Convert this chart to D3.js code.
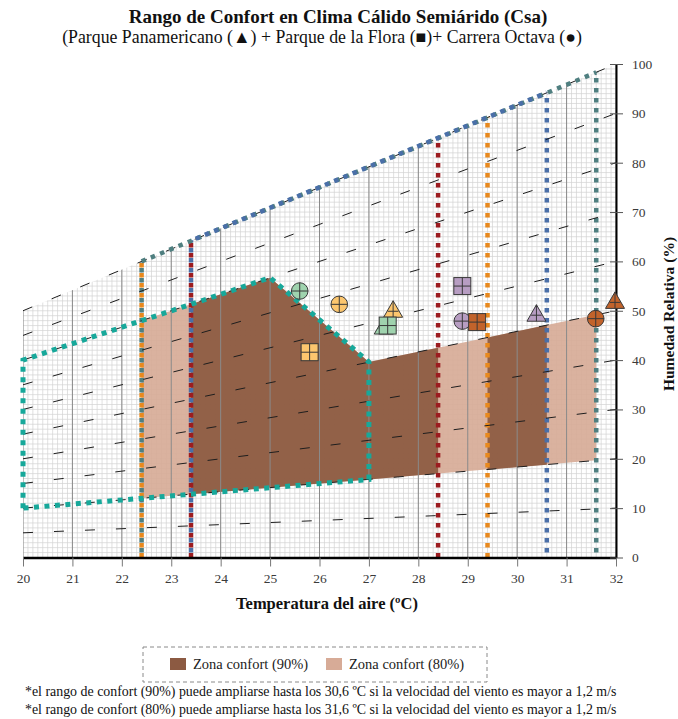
<!DOCTYPE html>
<html>
<head>
<meta charset="utf-8">
<script src="https://cdn.jsdelivr.net/npm/d3@7"></script>
<style>
  body { margin: 0; background: #fff; }
  svg { display: block; font-family: "Liberation Serif", "DejaVu Serif", serif; }
</style>
</head>
<body>
<svg id="chart" width="678" height="719"></svg>
<script>
// axis ticks
var tempTicks = [20, 21, 22, 23, 24, 25, 26, 27, 28, 29, 30, 31, 32];
var rhTicks = [0, 10, 20, 30, 40, 50, 60, 70, 80, 90, 100];

// saturation line (top of the chart), value at 20 and 32 C
var satTemp = [20, 32];
var satValue = [50, 100];

// dashed humidity curves, value where each one meets 20 C and 32 C
var curveAt20 = [5, 10, 15, 20, 25, 30, 35, 40, 45, 50];
var curveAt32 = [10, 20, 30, 40, 50, 60, 70, 80, 90, 100];

// comfort zone 80% (light)
var zone80Temp = [22.4, 22.4, 23.4, 25.0, 27.0, 28.4, 29.4, 30.6, 31.6, 31.6, 22.4];
var zone80Value = [12.0, 48.0, 51.3, 56.7, 39.6, 42.5, 44.6, 47.1, 49.2, 19.7, 12.0];

// comfort zone 90% (dark), two pieces
var zone90aTemp = [23.4, 23.4, 25.0, 27.0, 28.4, 28.4, 27.0, 23.4];
var zone90aValue = [12.8, 51.3, 56.7, 39.6, 42.5, 17.0, 15.8, 12.8];
var zone90bTemp = [29.4, 29.4, 30.6, 30.6];
var zone90bValue = [17.8, 44.6, 47.1, 18.8];

// dotted envelope (teal)
var envTemp = [20, 20, 22.4, 23.4, 25.0, 27.0, 27.0, 20];
var envValue = [10, 40, 48.0, 51.3, 56.7, 39.6, 15.8, 10];

// limit temperatures
var lim80 = [22.4, 29.4];
var lim90 = [23.4, 28.4];
var lim90wind = [23.4, 30.6];
var lim80wind = [22.4, 31.6];
// top of the wind envelopes along the saturation line
var top90windValue = [64.2, 94.2];
var top80windValue = [60.0, 98.3];

// measured points, one per colour group (green, yellow, purple, brown)
var triTemp = [27.30, 27.49, 30.39, 31.98];
var triValue = [46.8, 50.2, 49.4, 52.0];
var sqTemp = [27.38, 25.80, 28.89, 29.19];
var sqValue = [47.0, 41.6, 55.0, 47.7];
var circTemp = [25.60, 26.40, 28.89, 31.59];
var circValue = [54.0, 51.3, 47.9, 48.4];

var groupColor = ["#9fd3ae", "#fcc66e", "#b79dc2", "#c2632b"];
var lineColor = { l80: "#e8891e", l90: "#9c1c20", l90w: "#4a6fa8", l80w: "#4f7f80", env: "#17a89a" };

var svg = d3.select("#chart");
var x = d3.scaleLinear().domain([20, 32]).range([23, 616]);
var y = d3.scaleLinear().domain([0, 100]).range([557.5, 64]);
var line = d3.line();
function pt(t, v) { return [x(t), y(v)]; }
function polyPath(ts, vs) {
    return line(ts.map(function(t, i) { return pt(t, vs[i]); })) + "Z";
}

// clip everything under the saturation line
svg.append("clipPath").attr("id", "satClip")
  .append("path")
    .attr("d", polyPath([satTemp[0], satTemp[0], satTemp[1], satTemp[1]],
                        [0, satValue[0], satValue[1], 0]));

var grid = svg.append("g").attr("clip-path", "url(#satClip)");

// fine grid
grid.selectAll(".vminor")
    .data(d3.range(200, 321).map(function(d) { return d / 10; }))
  .enter().append("line")
    .attr("x1", function(d) { return x(d); })
    .attr("x2", function(d) { return x(d); })
    .attr("y1", y(0)).attr("y2", y(100))
    .attr("stroke", "#d2d2d2").attr("stroke-width", 0.7);

grid.selectAll(".hminor")
    .data(d3.range(0, 101))
  .enter().append("line")
    .attr("x1", x(20)).attr("x2", x(32))
    .attr("y1", function(d) { return y(d); })
    .attr("y2", function(d) { return y(d); })
    .attr("stroke", "#d2d2d2").attr("stroke-width", 0.7);

// comfort zones
svg.append("path").attr("d", polyPath(zone80Temp, zone80Value))
    .attr("fill", "#d7ab97").attr("opacity", 0.92);
svg.append("path").attr("d", polyPath(zone90aTemp, zone90aValue))
    .attr("fill", "#8c5a42").attr("opacity", 0.93);
svg.append("path").attr("d", polyPath(zone90bTemp, zone90bValue))
    .attr("fill", "#8c5a42").attr("opacity", 0.93);

var grid2 = svg.append("g").attr("clip-path", "url(#satClip)");

// degree lines
grid2.selectAll(".vmajor")
    .data(tempTicks)
  .enter().append("line")
    .attr("x1", function(d) { return x(d); })
    .attr("x2", function(d) { return x(d); })
    .attr("y1", y(0)).attr("y2", y(100))
    .attr("stroke", "#8a8a8a").attr("stroke-width", 1);

// humidity curves
svg.selectAll(".curve")
    .data(curveAt32)
  .enter().append("path")
    .attr("d", function(d, i) { return line([pt(20, curveAt20[i]), pt(32, d)]); })
    .attr("fill", "none")
    .attr("stroke", "#1e1e1e").attr("stroke-width", 1)
    .attr("stroke-dasharray", "10,21");

// vertical limit lines (dotted)
function vLines(temps, color, offset) {
    grid2.selectAll(null)
        .data(temps)
      .enter().append("line")
        .attr("x1", function(d) { return x(d); })
        .attr("x2", function(d) { return x(d); })
        .attr("y1", y(0)).attr("y2", y(100))
        .attr("stroke", color).attr("stroke-width", 4.5)
        .attr("stroke-dasharray", "4.5,5.5")
        .attr("stroke-dashoffset", offset);
}
vLines(lim80wind, lineColor.l80w, 5);
vLines(lim80, lineColor.l80, 0);
vLines(lim90wind, lineColor.l90w, 5);
vLines(lim90, lineColor.l90, 0);

// top of wind envelopes
svg.append("path")
    .attr("d", line([pt(lim80wind[0], top80windValue[0]), pt(lim80wind[1], top80windValue[1])]))
    .attr("stroke", lineColor.l80w).attr("stroke-width", 4.5)
    .attr("stroke-dasharray", "4.5,5.5").attr("fill", "none");
svg.append("path")
    .attr("d", line([pt(lim90wind[0], top90windValue[0]), pt(lim90wind[1], top90windValue[1])]))
    .attr("stroke", lineColor.l90w).attr("stroke-width", 4.5)
    .attr("stroke-dasharray", "4.5,5.5").attr("stroke-dashoffset", 5).attr("fill", "none");

// teal envelope
svg.append("path")
    .attr("d", polyPath(envTemp, envValue))
    .attr("fill", "none")
    .attr("stroke", lineColor.env).attr("stroke-width", 5)
    .attr("stroke-dasharray", "5,5.5");

// axes
var xAxis = svg.append("g")
    .attr("transform", "translate(0," + y(0) + ")")
    .call(d3.axisBottom(x).tickValues(tempTicks).tickSize(9).tickSizeOuter(0).tickPadding(7));
xAxis.select(".domain").attr("stroke", "#000").attr("stroke-width", 2.5);
xAxis.selectAll(".tick line").attr("stroke", "#777");
xAxis.selectAll("text").attr("font-size", 13.5).attr("fill", "#3a3a3a")
    .attr("font-family", "Liberation Serif");

var yAxis = svg.append("g")
    .attr("transform", "translate(" + x(32) + ",0)")
    .call(d3.axisRight(y).tickValues(rhTicks).tickSize(7).tickSizeOuter(0).tickPadding(9));
yAxis.select(".domain").attr("stroke", "#000").attr("stroke-width", 2);
yAxis.selectAll(".tick line").attr("x1", -6).attr("stroke", "#555");
yAxis.selectAll("text").attr("font-size", 13.5).attr("fill", "#3a3a3a")
    .attr("font-family", "Liberation Serif");

// markers
var marks = svg.append("g").attr("stroke", "#383838").attr("stroke-width", 1);

marks.selectAll(".tri")
    .data(triTemp)
  .enter().append("g")
    .attr("transform", function(d, i) { return "translate(" + x(d) + "," + y(triValue[i]) + ")"; })
    .each(function(d, i) {
        var g = d3.select(this);
        g.append("path").attr("d", "M0,-9L9.5,7.5L-9.5,7.5Z").attr("fill", groupColor[i]);
        g.append("line").attr("x1", 0).attr("x2", 0).attr("y1", -9).attr("y2", 7.5);
        g.append("line").attr("x1", -5.3).attr("x2", 5.3).attr("y1", 1.5).attr("y2", 1.5);
    });

marks.selectAll(".circ")
    .data(circTemp)
  .enter().append("g")
    .attr("transform", function(d, i) { return "translate(" + x(d) + "," + y(circValue[i]) + ")"; })
    .each(function(d, i) {
        var g = d3.select(this);
        g.append("circle").attr("r", 8.3).attr("fill", groupColor[i]);
        g.append("line").attr("x1", 0).attr("x2", 0).attr("y1", -8.3).attr("y2", 8.3);
        g.append("line").attr("x1", -8.3).attr("x2", 8.3).attr("y1", 0).attr("y2", 0);
    });

marks.selectAll(".sq")
    .data(sqTemp)
  .enter().append("g")
    .attr("transform", function(d, i) { return "translate(" + x(d) + "," + y(sqValue[i]) + ")"; })
    .each(function(d, i) {
        var g = d3.select(this);
        g.append("rect").attr("x", -8.5).attr("y", -8.5).attr("width", 17).attr("height", 17)
            .attr("fill", groupColor[i]);
        g.append("line").attr("x1", 0).attr("x2", 0).attr("y1", -8.5).attr("y2", 8.5);
        g.append("line").attr("x1", -8.5).attr("x2", 8.5).attr("y1", 0).attr("y2", 0);
    });

// titles
svg.append("text").attr("x", 338).attr("y", 23).attr("text-anchor", "middle")
    .attr("font-size", 19).attr("font-weight", "bold").attr("fill", "#111")
    .text("Rango de Confort en Clima Cálido Semiárido (Csa)");
svg.append("text").attr("x", 322).attr("y", 43).attr("text-anchor", "middle")
    .attr("font-size", 17.8).attr("fill", "#111")
    .text("(Parque Panamericano (▲) + Parque de la Flora (■)+ Carrera Octava (●)");

svg.append("text").attr("x", 327).attr("y", 609).attr("text-anchor", "middle")
    .attr("font-size", 16.5).attr("font-weight", "bold").attr("fill", "#111")
    .text("Temperatura del aire (ºC)");

svg.append("text")
    .attr("transform", "translate(669,314) rotate(-90)")
    .attr("text-anchor", "middle").attr("dy", "0.35em")
    .attr("font-size", 15.5).attr("font-weight", "bold").attr("fill", "#111")
    .text("Humedad Relativa (%)");

// legend
var legend = svg.append("g");
legend.append("rect").attr("x", 143).attr("y", 647).attr("width", 344).attr("height", 35)
    .attr("fill", "none").attr("stroke", "#8a8a8a").attr("stroke-dasharray", "4,3");
var legendItems = ["Zona confort (90%)", "Zona confort (80%)"];
var legendFill = ["#8c5a42", "#d7ab97"];
legend.selectAll(".item")
    .data(legendItems)
  .enter().append("g")
    .attr("transform", function(d, i) { return "translate(" + (170 + i * 156) + ",658)"; })
    .each(function(d, i) {
        var g = d3.select(this);
        g.append("rect").attr("width", 16).attr("height", 12).attr("fill", legendFill[i]);
        g.append("text").attr("x", 23).attr("y", 11).attr("font-size", 14.5).attr("fill", "#222").text(d);
    });

// notes
var notes = [
    "*el rango de confort (90%) puede ampliarse hasta los 30,6 ºC si la velocidad del viento es mayor a 1,2 m/s",
    "*el rango de confort (80%) puede ampliarse hasta los 31,6 ºC si la velocidad del viento es mayor a 1,2 m/s"
];
svg.selectAll(".note")
    .data(notes)
  .enter().append("text")
    .attr("x", 25).attr("y", function(d, i) { return 696 + i * 18; })
    .attr("font-size", 13.9).attr("fill", "#111")
    .text(function(d) { return d; });
</script>
</body>
</html>
